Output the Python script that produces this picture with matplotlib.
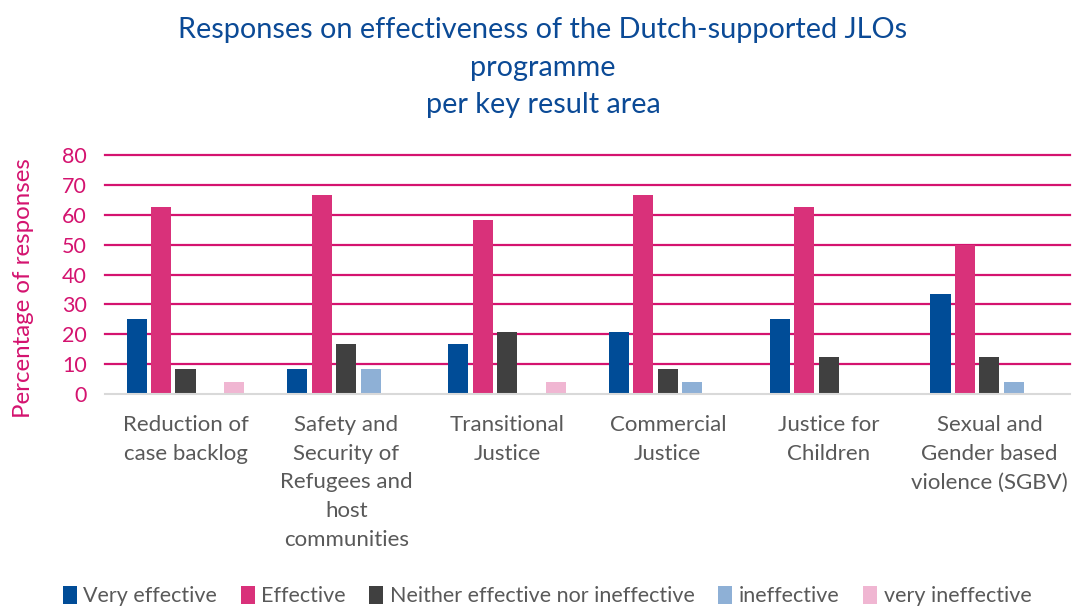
import matplotlib.pyplot as plt
import numpy as np

# Категорії та значення (відсотки відповідей)
categories = ["Reduction of\ncase backlog",
              "Safety and\nSecurity of\nRefugees and\nhost\ncommunities",
              "Transitional\nJustice",
              "Commercial\nJustice",
              "Justice for\nChildren",
              "Sexual and\nGender based\nviolence (SGBV)"]
series_names = ["Very effective", "Effective", "Neither effective nor ineffective",
                "ineffective", "very ineffective"]
very_effective = [25.0, 8.33, 16.67, 20.83, 25.0, 33.33]
effective = [62.5, 66.67, 58.33, 66.67, 62.5, 50.0]
neither = [8.33, 16.67, 20.83, 8.33, 12.5, 12.5]
ineffective = [0, 8.33, 0, 4.17, 0, 4.17]
very_ineffective = [4.17, 0, 4.17, 0, 0, 0]
colors = ["#004C97", "#D9317A", "#404040", "#8EB0D6", "#F0B6D2"]

plt.rcParams['font.family'] = ['Lato', 'DejaVu Sans']

fig = plt.figure(figsize=(10.73, 6.08), dpi=100)
ax = fig.add_axes([0.098, 0.352, 0.899, 0.393])

x = np.arange(len(categories))
width = 0.125
step = 0.152
values = [very_effective, effective, neither, ineffective, very_ineffective]
for i, (vals, name, c) in enumerate(zip(values, series_names, colors)):
    ax.bar(x + (i - 2) * step, vals, width, color=c, label=name, zorder=3)

ax.set_xlim(-0.5, len(categories) - 0.5)
ax.set_ylim(0, 80)
ax.set_yticks(range(0, 81, 10))
ax.grid(axis='y', color='#D4136F', linewidth=1.6, zorder=0)
ax.set_axisbelow(True)
for g in ax.yaxis.get_gridlines():
    g.set_clip_on(False)
ax.yaxis.get_gridlines()[0].set_visible(False)
for s in ['top', 'right', 'left']:
    ax.spines[s].set_visible(False)
ax.spines['bottom'].set_color('#D9D9D9')
ax.spines['bottom'].set_linewidth(1.5)
ax.spines['bottom'].set_zorder(4)

ax.tick_params(axis='y', length=0, labelsize=15.5, labelcolor='#D4136F', pad=13)
ax.tick_params(axis='x', length=0, labelsize=16, labelcolor='#595959', pad=15)
ax.set_xticks(x)
ax.set_xticklabels(categories, linespacing=1.55, va='top')

ax.set_ylabel("Percentage of responses", fontsize=17.3, color='#D4136F', labelpad=20)
ax.yaxis.label.set_y(0.445)

fig.text(0.506, 0.972, "Responses on effectiveness of the Dutch-supported JLOs\nprogramme\nper key result area",
         ha='center', va='top', fontsize=20.8, color='#0B4A96', linespacing=1.55)

ax.legend(loc='center', bbox_to_anchor=(0.458, -0.845), ncol=5, frameon=False,
          fontsize=15.5, labelcolor='#595959', handlelength=0.65, handleheight=0.9,
          handletextpad=0.3, columnspacing=1.1)

fig.savefig("out.png", dpi=100)
